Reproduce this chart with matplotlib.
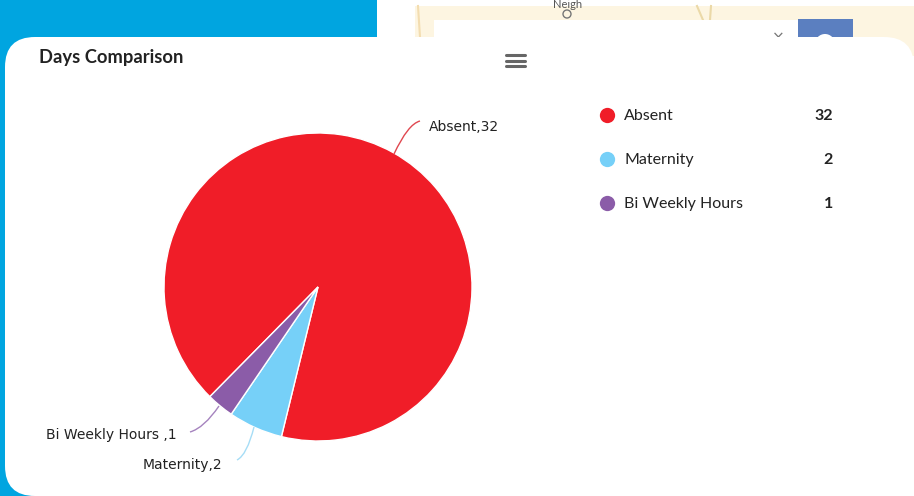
import matplotlib
matplotlib.use('Agg')
import matplotlib.pyplot as plt
from matplotlib.patches import FancyBboxPatch, Rectangle, Circle, PathPatch
from matplotlib.path import Path

categories = ['Absent', 'Maternity', 'Bi Weekly Hours']
days = [32, 2, 1]
colors = ['#F01D28', '#76D0F8', '#8B5CA8']
line_colors = ['#E0474F', '#A6DDF6', '#A583BE']
pie_labels = ['Absent,32', 'Maternity,2', 'Bi Weekly Hours ,1']

fig = plt.figure(figsize=(9.14, 4.96), dpi=100, facecolor='white')
# whole figure in pixels, y going down like the screenshot
ax = fig.add_axes([0, 0, 1, 1])

wedges, _ = ax.pie(days, colors=colors, startangle=134.6, counterclock=True,
                   radius=154, center=(318, 287),
                   wedgeprops={'edgecolor': 'white', 'linewidth': 1.0})
ax.set_xlim(0, 914)
ax.set_ylim(496, 0)
ax.set_aspect('auto')
ax.axis('off')

# background behind the card
ax.add_patch(Rectangle((0, 0), 377, 60, fc='#00A5E0', ec='none', zorder=-5))
ax.add_patch(Rectangle((0, 0), 40, 496, fc='#00A5E0', ec='none', zorder=-5))
ax.add_patch(Rectangle((415, 6), 499, 50, fc='#FDF5E1', ec='none', zorder=-5))
ax.plot([418, 420], [6, 37], color='#F3DDB0', lw=1.5, zorder=-4.5)
ax.plot([697, 703], [6, 20], color='#EBD9A8', lw=1.5, zorder=-4.5)
ax.plot([711, 710], [6, 20], color='#EBD9A8', lw=1.5, zorder=-4.5)
ax.add_patch(Rectangle((434, 20), 364, 30, fc='white', ec='none', zorder=-4))
ax.add_patch(Rectangle((798, 19), 55, 30, fc='#5B7FC0', ec='none', zorder=-4))
ax.add_patch(Circle((825, 44), 10, fc='white', ec='none', zorder=-3))
ax.text(568, 4, 'Neigh', fontsize=8, family='Lato', color='#555555',
        ha='center', va='center', zorder=-4)
ax.add_patch(Circle((567, 14), 4, fc='none', ec='#777777', lw=1, zorder=-4))
ax.text(778, 38, '×', fontsize=11, color='#777777', ha='center', va='center', zorder=-4)

# white card, runs off the right edge
ax.add_patch(FancyBboxPatch((35, 67), 849, 399,
                            boxstyle='round,pad=30,rounding_size=30',
                            fc='white', ec='none', zorder=-2))
ax.add_patch(Rectangle((800, 460), 114, 36, fc='white', ec='none', zorder=-2))

# leader lines
leaders = [
    [(394, 154), (408, 124), (420, 121)],
    [(254, 427), (247, 455), (237, 460)],
    [(219, 406), (204, 428), (190, 432)],
]
for pts, c in zip(leaders, line_colors):
    ax.add_patch(PathPatch(Path(pts, [Path.MOVETO, Path.CURVE3, Path.CURVE3]),
                           fc='none', ec=c, lw=1, zorder=3))

ax.text(429, 127, pie_labels[0], fontsize=10, color='#222222', ha='left', va='center',
        family='DejaVu Sans')
ax.text(222, 465, pie_labels[1], fontsize=10, color='#222222', ha='right', va='center',
        family='DejaVu Sans')
ax.text(177, 435.5, pie_labels[2], fontsize=10, color='#222222', ha='right', va='center',
        family='DejaVu Sans')

ax.text(39, 58, 'Days Comparison', fontsize=13.2, fontweight='bold', family='Lato',
        color='#222222', ha='left', va='center')

# menu icon
for y in [55, 60.5, 66]:
    ax.plot([506, 525], [y, y], color='#666666', lw=2.2, solid_capstyle='round')

# legend
for cat, val, c, y in zip(categories, days, colors, [115, 159, 203]):
    ax.plot(607, y, 'o', color=c, ms=11, mec='none')
    ax.text(624, y + 1, cat, fontsize=11.5, family='Lato', color='#222222', ha='left', va='center')
    ax.text(833, y + 1, str(val), fontsize=11.5, family='Lato', fontweight='bold',
            color='#222222', ha='right', va='center')

plt.savefig('out.png', dpi=100)
